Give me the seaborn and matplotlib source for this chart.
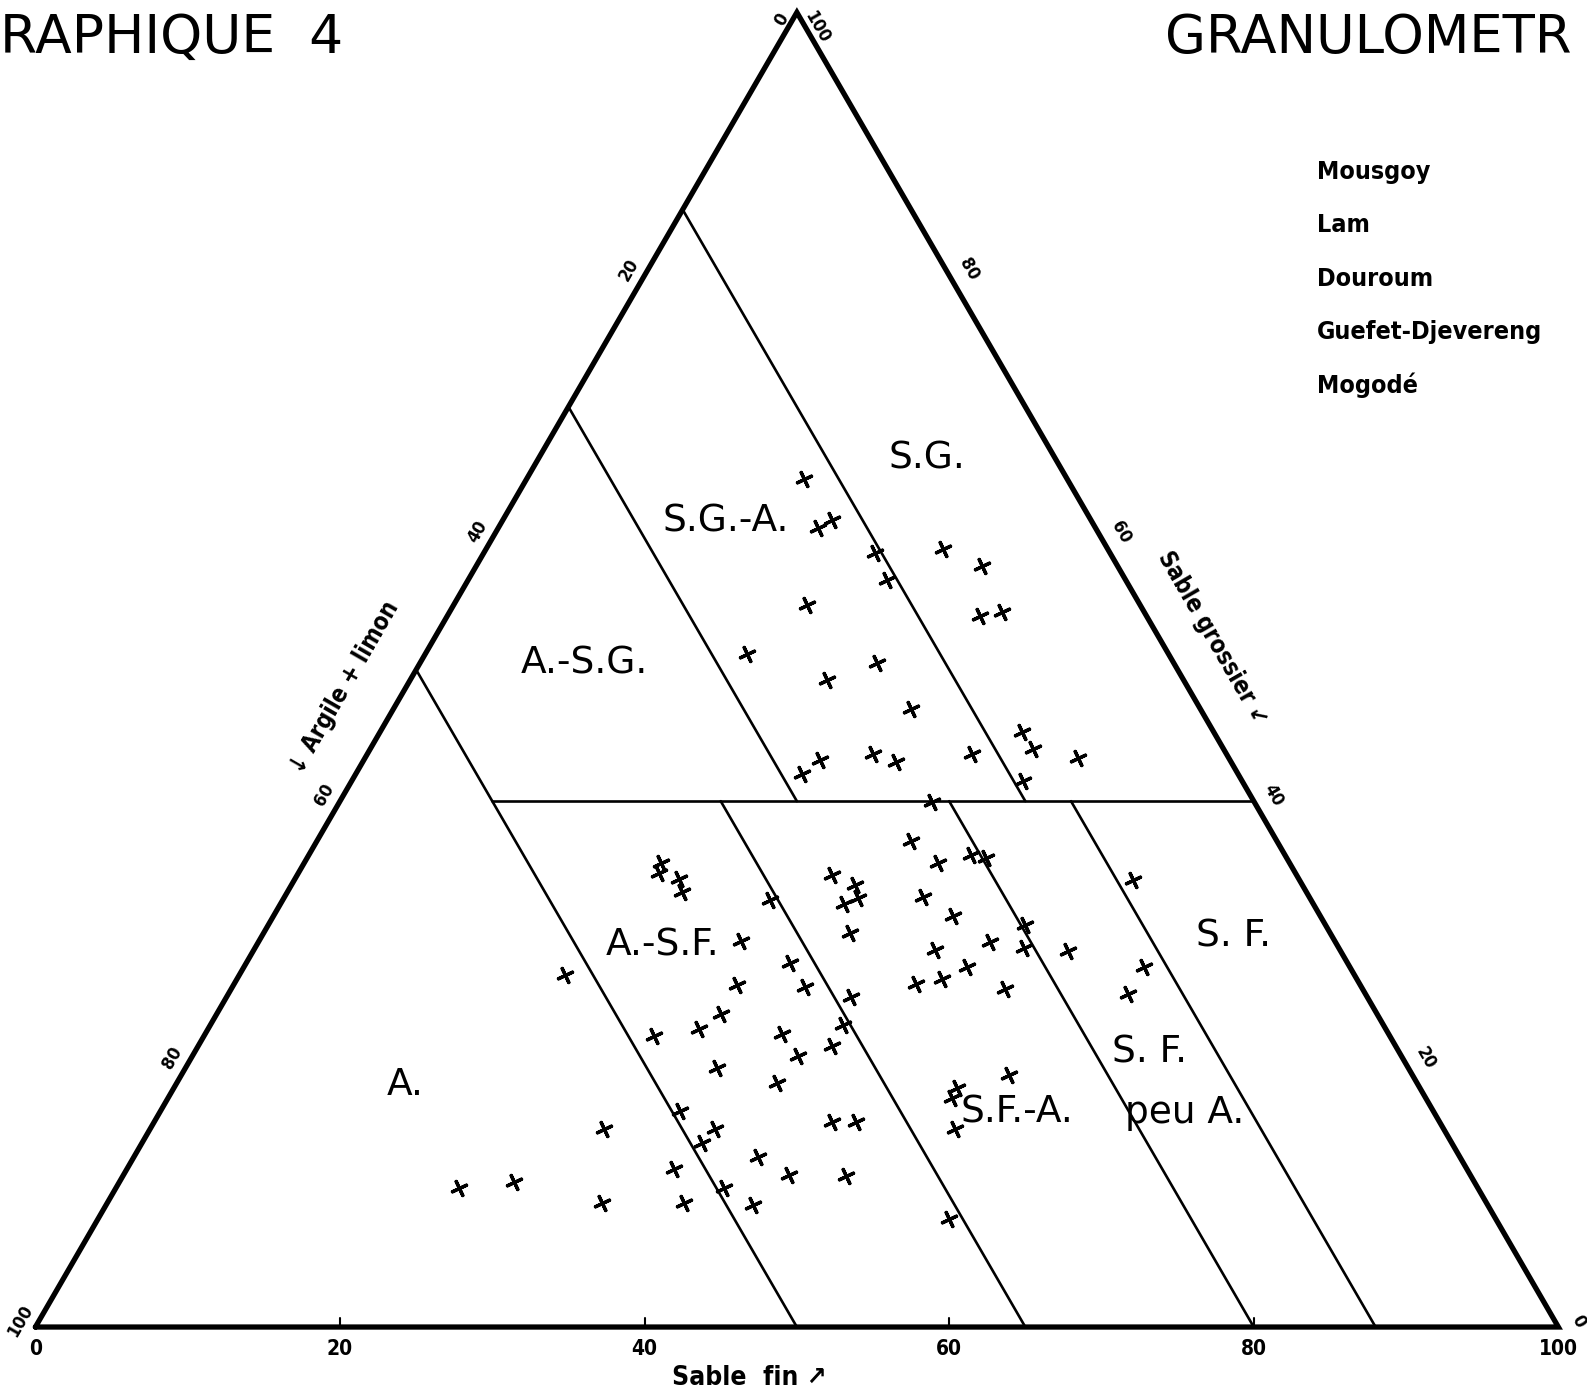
import numpy as np
import pandas as pd
import matplotlib
matplotlib.use("Agg")
import matplotlib.pyplot as plt
import seaborn as sns

# --- data: soil samples (% sable fin, % sable grossier), argile + limon = rest
sable_fin = [18.2, 21.0, 21.6, 25.7, 27.5, 30.0, 33.2, 23.2, 35.0, 36.3, 21.1, 30.0,
             27.4, 34.0, 42.1, 43.5, 39.7, 46.8, 30.0, 33.2, 35.0, 29.3, 44.1, 38.9,
             23.4, 23.7, 25.2, 25.9, 32.0, 31.6, 35.7, 37.6, 33.1, 33.1, 32.2, 29.6,
             37.9, 41.5, 41.6, 39.8, 34.9, 39.4, 21.4, 35.1, 37.0, 37.0, 37.7, 38.5,
             41.0, 39.0, 41.6, 41.9, 44.6, 44.7, 44.8, 46.3, 47.5, 43.5, 44.6, 48.0,
             49.7, 50.5, 50.8, 53.5, 55.1, 59.1, 59.1, 54.3, 51.4, 51.5, 52.8, 55.9,
             29.8, 32.5, 34.1, 37.1, 36.8, 35.9, 39.9, 37.9, 41.0, 43.7, 42.5, 44.5,
             46.1, 47.5, 22.5, 25.9]
sable_grossier = [64.5, 60.8, 61.4, 58.9, 56.8, 59.2, 57.9, 54.9, 54.1, 54.4, 51.2, 50.5,
                  49.2, 47.0, 45.3, 44.0, 43.6, 43.3, 43.1, 43.6, 43.0, 42.1, 41.5, 39.9,
                  35.3, 34.5, 34.1, 33.1, 32.5, 29.4, 27.7, 25.9, 26.0, 23.8, 22.7, 22.1,
                  22.3, 23.0, 21.4, 20.6, 19.7, 18.6, 26.8, 34.4, 33.6, 32.2, 32.6, 30.0,
                  25.1, 37.0, 35.3, 32.7, 31.3, 28.7, 26.1, 26.5, 27.4, 35.9, 35.7, 29.3,
                  30.6, 28.8, 25.7, 28.6, 34.0, 27.4, 25.3, 19.2, 18.2, 17.4, 15.1, 8.2,
                  15.1, 9.4, 16.4, 15.1, 14.0, 12.0, 10.6, 9.4, 12.9, 11.6, 9.3, 15.6,
                  15.6, 11.5, 10.6, 11.0]

# class boundaries, (sable fin, sable grossier) at both ends
limites = [((0, 50), (50, 0)),
           ((0, 70), (30, 40)),
           ((0, 85), (45, 40)),
           ((10, 40), (60, 40)),
           ((25, 40), (65, 0)),
           ((40, 40), (80, 0)),
           ((48, 40), (88, 0))]

# class labels: (text, sable fin, sable grossier)
classes = [("A.", 15.1, 18.4), ("A.-S.G.", 10.8, 50.5), ("S.G.-A.", 14.7, 61.3),
           ("S.G.", 25.5, 66.1), ("A.-S.F.", 26.7, 29.0), ("S.F.-A.", 56.3, 16.3),
           ("S. F.", 62.7, 20.9), ("peu A.", 67.3, 16.3), ("S. F.", 63.8, 29.7)]

graduations = [0, 20, 40, 60, 80, 100]
localites = ["Mousgoy", "Lam", "Douroum", "Guefet-Djevereng", "Mogodé"]

H = np.sqrt(3) / 2


def cart(f, g):
    return f + g / 2, g * H


sns.set_style("white")
plt.rcParams["font.family"] = ["DejaVu Sans"]
plt.rcParams["text.color"] = "black"

fig = plt.figure(figsize=(15.87, 13.97), dpi=100)
ax = fig.add_axes([0, 0, 1, 1])
ax.set_xlim(-2.324, 101.88)
ax.set_ylim(-4.61, 87.42)
ax.axis("off")

# triangle
tx, ty = cart(np.array([0, 100, 0, 0]), np.array([0, 0, 100, 0]))
ax.plot(tx, ty, color="black", lw=3.8, solid_joinstyle="miter")

for (f1, g1), (f2, g2) in limites:
    x1, y1 = cart(f1, g1)
    x2, y2 = cart(f2, g2)
    ax.plot([x1, x2], [y1, y2], color="black", lw=1.9)

# ticks and tick labels
for v in graduations:
    x, y = cart(v, 0)
    if 0 < v < 100:
        ax.plot([x, x], [y, y + 0.6], color="black", lw=1.5)
    ax.text(x, y - 1.45, str(v), ha="center", va="center", fontsize=15,
            fontweight="bold", fontstretch="condensed")
    # left side: argile + limon (0 at top)
    x, y = cart(0, 100 - v)
    dy = -0.5 if v == 0 else 0.4
    ax.text(x - 1.0, y + dy, str(v), ha="center", va="center", fontsize=13,
            fontweight="bold", rotation=60, fontstretch="condensed")
    # right side: sable grossier (100 at top)
    x, y = cart(100 - v, v)
    dy = -1.0 if v == 100 else 0.4
    ax.text(x + 1.3, y + dy, str(v), ha="center", va="center", fontsize=13,
            fontweight="bold", rotation=-60, fontstretch="condensed")

# points
df = pd.DataFrame({"fin": sable_fin, "grossier": sable_grossier})
df["x"], df["y"] = cart(df["fin"], df["grossier"])
sns.scatterplot(data=df, x="x", y="y", marker=(4, 2, 25), s=125, color="black",
                edgecolor="black", linewidth=2.4, legend=False, ax=ax)

for txt, f, g in classes:
    x, y = cart(f, g)
    ax.text(x, y, txt, ha="center", va="center", fontsize=27)

# axis titles
ax.text(46.9, -3.35, "Sable  fin ↗", ha="center", va="center", fontsize=19,
        fontweight="bold", fontstretch="condensed")
ax.text(20.3, 42.1, "↓ Argile + limon", ha="center", va="center", fontsize=17,
        fontweight="bold", rotation=60, fontstretch="condensed")
ax.text(77.3, 45.4, "Sable grossier ↙", ha="center", va="center", fontsize=17,
        fontweight="bold", rotation=-60, fontstretch="condensed")

# header (cropped in the scan)
fig.text(0.0, 1 - 38 / 1397, "RAPHIQUE  4", ha="left", va="center", fontsize=38.5)
fig.text(1165 / 1587, 1 - 38 / 1397, "GRANULOMETR", ha="left", va="center",
         fontsize=38)

for i, nom in enumerate(localites):
    fig.text(1317 / 1587, 1 - (172 + 53.3 * i) / 1397, nom, ha="left", va="center",
             fontsize=18, fontweight="bold", fontstretch="condensed")

fig.savefig("out.png", dpi=100, facecolor="white")
